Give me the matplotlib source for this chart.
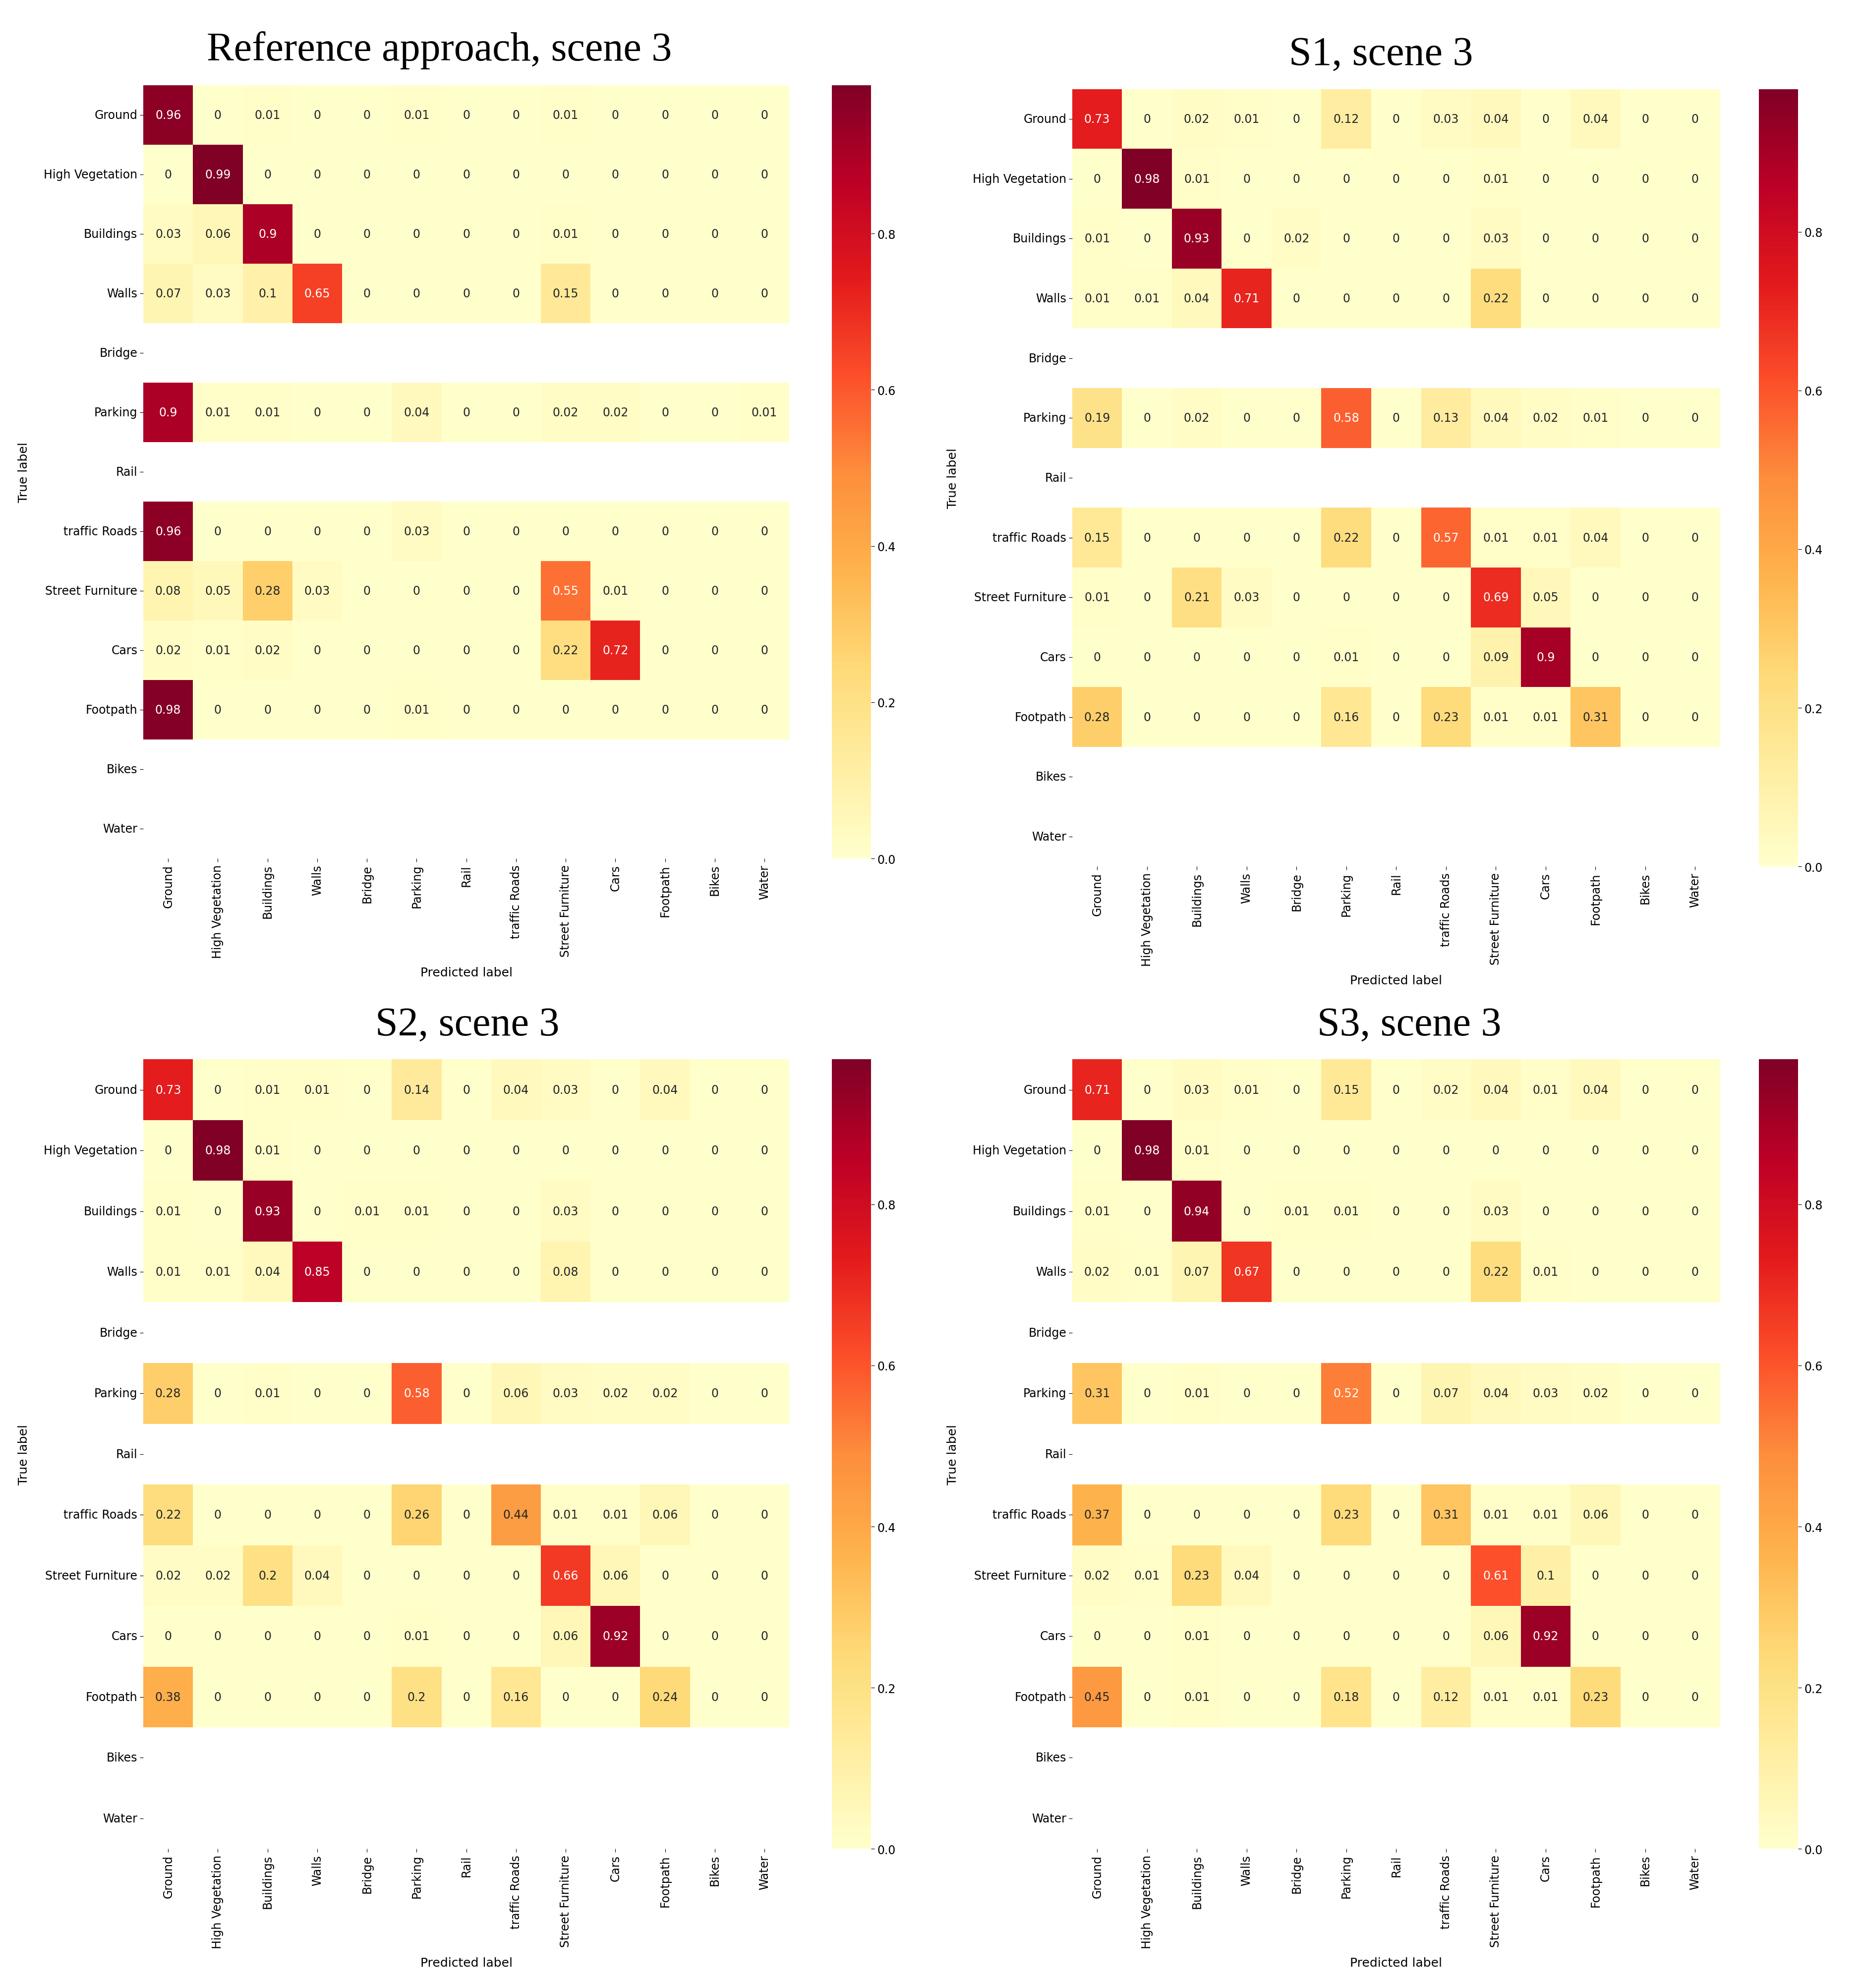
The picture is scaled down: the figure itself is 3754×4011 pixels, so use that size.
import numpy as np
import matplotlib
matplotlib.use("Agg")
import matplotlib.pyplot as plt
import seaborn as sns

labels = ["Ground", "High Vegetation", "Buildings", "Walls", "Bridge", "Parking", "Rail",
          "traffic Roads", "Street Furniture", "Cars", "Footpath", "Bikes", "Water"]
N = np.nan
blank = [N]*13

ref = [
    [.96,0,.01,0,0,.01,0,0,.01,0,0,0,0],
    [0,.99,0,0,0,0,0,0,0,0,0,0,0],
    [.03,.06,.9,0,0,0,0,0,.01,0,0,0,0],
    [.07,.03,.1,.65,0,0,0,0,.15,0,0,0,0],
    blank,
    [.9,.01,.01,0,0,.04,0,0,.02,.02,0,0,.01],
    blank,
    [.96,0,0,0,0,.03,0,0,0,0,0,0,0],
    [.08,.05,.28,.03,0,0,0,0,.55,.01,0,0,0],
    [.02,.01,.02,0,0,0,0,0,.22,.72,0,0,0],
    [.98,0,0,0,0,.01,0,0,0,0,0,0,0],
    blank, blank]
s1 = [
    [.73,0,.02,.01,0,.12,0,.03,.04,0,.04,0,0],
    [0,.98,.01,0,0,0,0,0,.01,0,0,0,0],
    [.01,0,.93,0,.02,0,0,0,.03,0,0,0,0],
    [.01,.01,.04,.71,0,0,0,0,.22,0,0,0,0],
    blank,
    [.19,0,.02,0,0,.58,0,.13,.04,.02,.01,0,0],
    blank,
    [.15,0,0,0,0,.22,0,.57,.01,.01,.04,0,0],
    [.01,0,.21,.03,0,0,0,0,.69,.05,0,0,0],
    [0,0,0,0,0,.01,0,0,.09,.9,0,0,0],
    [.28,0,0,0,0,.16,0,.23,.01,.01,.31,0,0],
    blank, blank]
s2 = [
    [.73,0,.01,.01,0,.14,0,.04,.03,0,.04,0,0],
    [0,.98,.01,0,0,0,0,0,0,0,0,0,0],
    [.01,0,.93,0,.01,.01,0,0,.03,0,0,0,0],
    [.01,.01,.04,.85,0,0,0,0,.08,0,0,0,0],
    blank,
    [.28,0,.01,0,0,.58,0,.06,.03,.02,.02,0,0],
    blank,
    [.22,0,0,0,0,.26,0,.44,.01,.01,.06,0,0],
    [.02,.02,.2,.04,0,0,0,0,.66,.06,0,0,0],
    [0,0,0,0,0,.01,0,0,.06,.92,0,0,0],
    [.38,0,0,0,0,.2,0,.16,0,0,.24,0,0],
    blank, blank]
s3 = [
    [.71,0,.03,.01,0,.15,0,.02,.04,.01,.04,0,0],
    [0,.98,.01,0,0,0,0,0,0,0,0,0,0],
    [.01,0,.94,0,.01,.01,0,0,.03,0,0,0,0],
    [.02,.01,.07,.67,0,0,0,0,.22,.01,0,0,0],
    blank,
    [.31,0,.01,0,0,.52,0,.07,.04,.03,.02,0,0],
    blank,
    [.37,0,0,0,0,.23,0,.31,.01,.01,.06,0,0],
    [.02,.01,.23,.04,0,0,0,0,.61,.1,0,0,0],
    [0,0,.01,0,0,0,0,0,.06,.92,0,0,0],
    [.45,0,.01,0,0,.18,0,.12,.01,.01,.23,0,0],
    blank, blank]

titles = ["Reference approach, scene 3", "S1, scene 3", "S2, scene 3", "S3, scene 3"]
mats = [ref, s1, s2, s3]

fig = plt.figure(figsize=(37.55, 40.12), dpi=100)
pos = [
    ([0.077, 0.568, 0.347, 0.389], [0.447, 0.568, 0.021, 0.389], 0.236),
    ([0.576, 0.564, 0.348, 0.391], [0.945, 0.564, 0.021, 0.391], 0.742),
    ([0.077, 0.070, 0.347, 0.397], [0.447, 0.070, 0.021, 0.397], 0.251),
    ([0.576, 0.070, 0.348, 0.397], [0.945, 0.070, 0.021, 0.397], 0.757),
]
for m, t, (p, cp, tx) in zip(mats, titles, pos):
    ax = fig.add_axes(p)
    cax = fig.add_axes(cp)
    arr = np.array(m, dtype=float)
    sns.heatmap(arr, ax=ax, cbar_ax=cax, cmap="YlOrRd", vmin=0, annot=True, fmt="g",
                annot_kws={"fontsize": 17}, xticklabels=labels, yticklabels=labels)
    ax.tick_params(axis="x", labelrotation=90, labelsize=17, length=5)
    ax.tick_params(axis="y", labelrotation=0, labelsize=17, length=5)
    ax.set_xlabel("Predicted label", fontsize=18, labelpad=12)
    ax.set_ylabel("True label", fontsize=18, labelpad=20)
    cax.tick_params(labelsize=17, length=5)
    cax.set_yticks([0, 0.2, 0.4, 0.6, 0.8])
    cax.set_yticklabels(["0.0", "0.2", "0.4", "0.6", "0.8"])
    fig.text(tx, p[1] + p[3] + 0.008, t, ha="center", va="bottom",
             fontsize=59, family="Liberation Serif")
fig.savefig("out.png", dpi=100)
